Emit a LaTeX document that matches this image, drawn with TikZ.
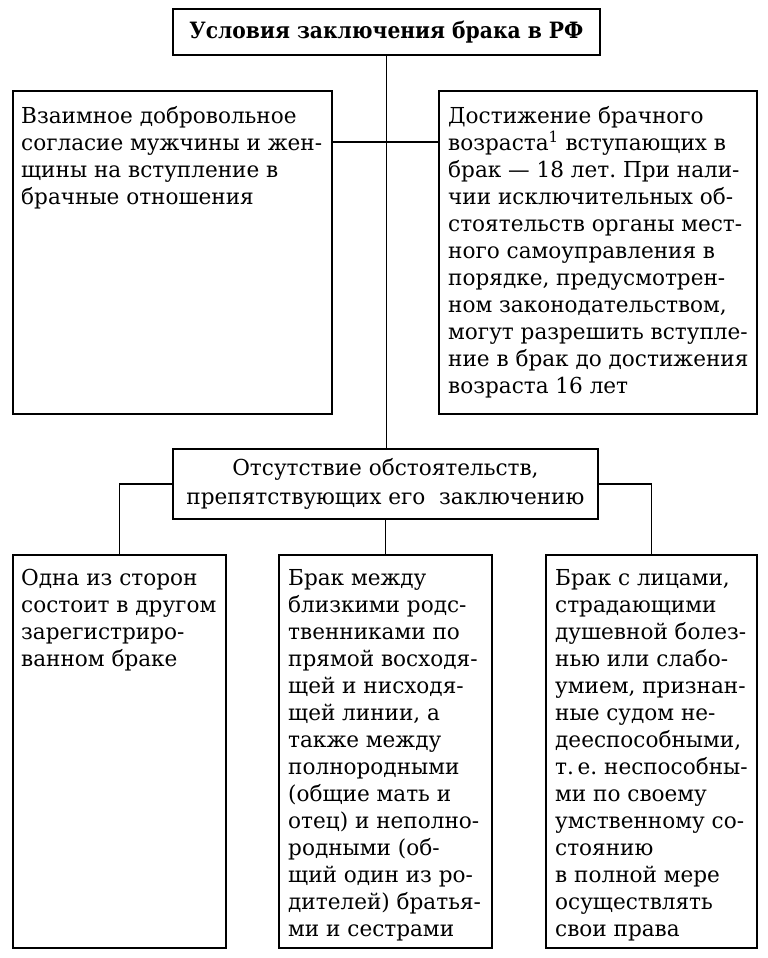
\documentclass[tikz,border=0pt]{standalone}
\usepackage{fontspec}
\setmainfont[FakeStretch=1.09]{DejaVu Serif Condensed}
\newfontfamily\titlefont{DejaVu Serif Condensed}
\newcommand\bodysize{\fontsize{22}{27}\selectfont}
\frenchspacing
\begin{document}
\begin{tikzpicture}[x=1pt,y=-1pt,
  frame/.style={draw,line width=1.8pt,inner sep=0pt,anchor=north west},
  txt/.style={anchor=north west,align=left,inner sep=0pt,font=\bodysize},
  link/.style={line width=1.8pt}]

  \useasboundingbox[fill=white] (0,0) rectangle (768,958);

  % upper level
  \node[frame,minimum width=427pt,minimum height=46pt,font=\titlefont\bfseries\fontsize{22.5}{27}\selectfont] at (172,8) (title) {Условия заключения брака в РФ};
  \node[frame,minimum width=319pt,minimum height=323pt] at (12,90) (consent) {};
  \node[frame,minimum width=318pt,minimum height=323pt] at (438,90) (age) {};
  \node[txt] at (21,106) (consent text) {Взаимное добровольное\\
  согласие мужчины и жен-\\
  щины на вступление в\\
  брачные отношения};
  \node[txt] at (448,106) (age text) {Достижение брачного\\
  возраста\textsuperscript{1} вступающих в\\
  брак — 18 лет. При нали-\\
  чии исключительных об-\\
  стоятельств органы мест-\\
  ного самоуправления в\\
  порядке, предусмотрен-\\
  ном законодательством,\\
  могут разрешить вступле-\\
  ние в брак до достижения\\
  возраста 16 лет};

  % middle level
  \node[frame,minimum width=425pt,minimum height=70pt,align=center,font=\fontsize{22}{29}\selectfont] at (172,448) (obstacles) {Отсутствие обстоятельств,\\
  препятствующих его\ \ заключению};

  % lower level
  \node[frame,minimum width=213pt,minimum height=393pt] at (12,554) (married) {};
  \node[frame,minimum width=213pt,minimum height=393pt] at (278,554) (kin) {};
  \node[frame,minimum width=211pt,minimum height=393pt] at (545,554) (incapable) {};
  \node[txt] at (21,569) (married text) {Одна из сторон\\
  состоит в другом\\
  зарегистриро-\\
  ванном браке};
  \node[txt] at (288,569) (kin text) {Брак между\\
  близкими родс-\\
  твенниками по\\
  прямой восходя-\\
  щей и нисходя-\\
  щей линии, а\\
  также между\\
  полнородными\\
  (общие мать и\\
  отец) и неполно-\\
  родными (об-\\
  щий один из ро-\\
  дителей) братья-\\
  ми и сестрами};
  \node[txt] at (555,569) (incapable text) {Брак с лицами,\\
  страдающими\\
  душевной болез-\\
  нью или слабо-\\
  умием, признан-\\
  ные судом не-\\
  дееспособными,\\
  т.\,е. неспособны-\\
  ми по своему\\
  умственному со-\\
  стоянию\\
  в полной мере\\
  осуществлять\\
  свои права};

  % connectors
  \coordinate (hook) at (385,142);
  \draw[link] (title.south) -- (title.south |- obstacles.north);
  \draw[link] (consent.east |- hook) -- (age.west |- hook);
  \draw[link] (obstacles.west) -| (married.north);
  \draw[link] (obstacles.east) -| (incapable.north);
  \draw[link] (obstacles.south) -- (kin.north);
\end{tikzpicture}
\end{document}
